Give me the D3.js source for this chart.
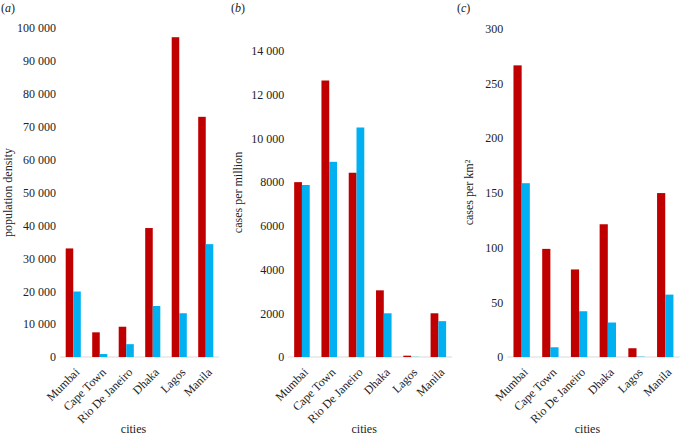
<!DOCTYPE html>
<html>
<head>
<meta charset="utf-8">
<script src="https://cdn.jsdelivr.net/npm/d3@7"></script>
<style>
  html, body { margin: 0; padding: 0; background: #fff; }
</style>
</head>
<body>
<svg id="chart" width="680" height="436"></svg>
<script>
// ---- data ----
const cities = ["Mumbai", "Cape Town", "Rio De Janeiro", "Dhaka", "Lagos", "Manila"];

// (a) population density
const densityRed  = [33000, 7500, 9200, 39200, 97200, 73000];
const densityBlue = [19900, 900, 3900, 15500, 13300, 34300];
const densityTicks = [0, 10000, 20000, 30000, 40000, 50000, 60000, 70000, 80000, 90000, 100000];

// (b) cases per million
const millionRed  = [8000, 12650, 8430, 3050, 60, 2000];
const millionBlue = [7870, 8930, 10500, 2000, 10, 1640];
const millionTicks = [0, 2000, 4000, 6000, 8000, 10000, 12000, 14000];

// (c) cases per km²
const kmRed  = [266.5, 98.8, 80, 121.3, 8, 149.8];
const kmBlue = [158.8, 8.9, 41.8, 31.5, 0.3, 57];
const kmTicks = [0, 50, 100, 150, 200, 250, 300];

const panelLetters = ["a", "b", "c"];
const yTitles = ["population density", "cases per million", "cases per km²"];
const xTitle = "cities";

const RED = "#C00000", BLUE = "#00B0F0";
const FONT = "'Liberation Serif', 'Times New Roman', Tinos, 'DejaVu Serif', serif";

// ---- layout ----
const panels = [
  { red: densityRed, blue: densityBlue, ticks: densityTicks, max: 100000,
    xr: [60, 219], yr: [357, 28], titleX: 11.5, letterX: 1 },
  { red: millionRed, blue: millionBlue, ticks: millionTicks, max: 14000,
    xr: [288.3, 452], yr: [357, 51], titleX: 242, letterX: 231 },
  { red: kmRed, blue: kmBlue, ticks: kmTicks, max: 300,
    xr: [507.3, 679.6], yr: [357, 28.7], titleX: 473, letterX: 457 }
];

function fmt(v) {
  if (v >= 10000) return d3.format(",")(v).replace(/,/g, " ");
  return String(v);
}

const svg = d3.select("#chart");

panels.forEach((p, i) => {
  const g = svg.append("g");
  const x = d3.scaleBand().domain(cities).range(p.xr).paddingInner(0.43).paddingOuter(0.215);
  const sub = d3.scaleBand().domain(["red", "blue"]).range([0, x.bandwidth()]);
  const y = d3.scaleLinear().domain([0, p.max]).range(p.yr);

  // baseline
  g.append("line")
    .attr("x1", p.xr[0]).attr("x2", p.xr[1])
    .attr("y1", y(0)).attr("y2", y(0))
    .attr("stroke", "#d9d9d9").attr("stroke-width", 1);

  // y axis (labels only)
  const yAxis = d3.axisLeft(y).tickValues(p.ticks).tickFormat(fmt).tickSize(0).tickPadding(4);
  const ya = g.append("g").attr("transform", `translate(${p.xr[0]},0)`).call(yAxis);
  ya.attr("font-family", null).attr("font-size", null);
  ya.select(".domain").remove();
  ya.selectAll("text").style("font-size", "12px").style("font-family", FONT).attr("fill", "#222");

  // bars
  const rows = cities.map((c, k) => ({ city: c, red: p.red[k], blue: p.blue[k] }));
  g.selectAll(".bar-red").data(rows).join("rect")
    .attr("x", d => x(d.city) + sub("red"))
    .attr("width", sub.bandwidth())
    .attr("y", d => y(d.red))
    .attr("height", d => y(0) - y(d.red))
    .attr("fill", RED);
  g.selectAll(".bar-blue").data(rows).join("rect")
    .attr("x", d => x(d.city) + sub("blue"))
    .attr("width", sub.bandwidth())
    .attr("y", d => y(d.blue))
    .attr("height", d => y(0) - y(d.blue))
    .attr("fill", BLUE);

  // x tick labels rotated
  g.selectAll(".xl").data(cities).join("text")
    .attr("transform", d => `translate(${x(d) + x.bandwidth() / 2 + 7},${y(0) + 16}) rotate(-45)`)
    .attr("text-anchor", "end")
    .style("font-size", "12px").style("font-family", FONT).attr("fill", "#222")
    .text(d => d);

  // x title
  g.append("text")
    .attr("x", (p.xr[0] + p.xr[1]) / 2 - 6)
    .attr("y", 433)
    .attr("text-anchor", "middle")
    .style("font-size", "12px").style("font-family", FONT).attr("fill", "#222")
    .text(xTitle);

  // y title
  g.append("text")
    .attr("transform", `translate(${p.titleX},192.5) rotate(-90)`)
    .attr("text-anchor", "middle")
    .style("font-size", "12px").style("font-family", FONT).attr("fill", "#222")
    .text(yTitles[i]);

  // panel letter
  const lt = g.append("text").attr("x", p.letterX).attr("y", 12)
    .style("font-size", "12px").style("font-family", FONT).attr("fill", "#222");
  lt.append("tspan").text("(");
  lt.append("tspan").attr("font-style", "italic").text(panelLetters[i]);
  lt.append("tspan").text(")");
});
</script>
</body>
</html>
